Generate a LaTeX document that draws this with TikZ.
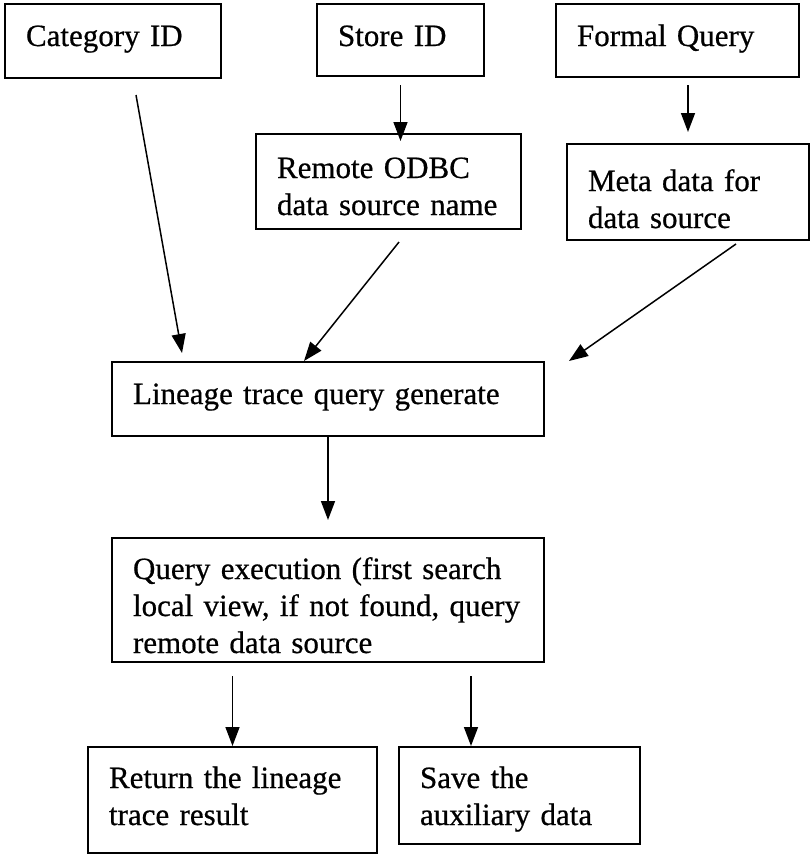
\documentclass[tikz,border=0pt]{standalone}
\usepackage{fontspec}
\setmainfont[FakeBold=0.6]{Liberation Serif}
\usepackage{tikz}
\usetikzlibrary{arrows.meta}

\begin{document}
\begin{tikzpicture}[x=1pt,y=-1pt,
    box/.style={draw, line width=2pt, inner xsep=21pt, inner ysep=0pt,
      align=left, anchor=north west, text height=42pt,
      font=\fontsize{31}{37}\selectfont},
    arr/.style={-{Triangle[length=19pt,width=14pt]}, line width=1.5pt}]
      \useasboundingbox (0,0) rectangle (810,854);
      %(1) inputs
      \node[box, text width=174pt, text depth=32pt] (cat) at (4,3) {Category ID};
      \node[box, text width=125pt, text depth=30pt] (store) at (316,3) {Store ID};
      \node[box, text width=201pt, text depth=31pt] (formal) at (555,3) {Formal Query};
      %(2) derived from store / query
      \node[box, text width=223pt, text height=44pt, text depth=51pt] (remote) at (255,133) {Remote ODBC\\data source name};
      \node[box, text width=200pt, text height=47pt, text depth=49pt] (meta) at (566,143) {Meta data for\\data source};
      \draw[arr] ([yshift=-8pt]store.south) -- ([yshift=-8pt]store.south |- remote.north);
      \draw[arr] ([yshift=-7pt]meta.north |- formal.south) -- ([yshift=11pt]meta.north);
      %(3) query generation
      \node[box, text width=390pt, text depth=32pt] (lin) at (111,361) {Lineage trace query generate};
      \draw[arr] ([xshift=23pt,yshift=-16pt]cat.south) -- ([xshift=71pt,yshift=8pt]lin.north west);
      \draw[arr] ([xshift=10.5pt,yshift=-12pt]remote.south) -- ([xshift=-24pt]lin.north);
      \draw[arr] ([xshift=48pt,yshift=-3pt]meta.south) -- ([xshift=24pt]lin.north east);
      %(4) execution
      \node[box, text width=390pt, text height=41pt, text depth=83pt] (qry) at (111,537) {Query execution (first search\\local view, if not found, query\\remote data source};
      \draw[arr] (lin.south) -- ([yshift=17pt]qry.north);
      %(5) results
      \node[box, text width=247pt, text height=41pt, text depth=65pt] (ret) at (87,746) {Return the lineage\\trace result};
      \node[box, text width=199pt, text height=41pt, text depth=56pt] (save) at (398,746) {Save the\\auxiliary data};
      \draw[arr] ([yshift=-13pt]ret.north |- qry.south) -- (ret.north);
      \draw[arr] ([xshift=143pt,yshift=-13pt]qry.south) -- ([xshift=143pt]qry.south |- save.north);
\end{tikzpicture}
\end{document}
